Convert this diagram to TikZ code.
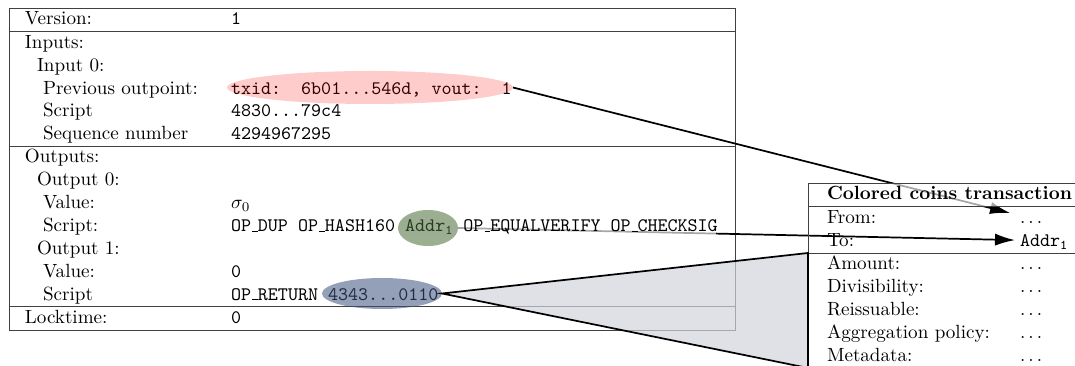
\documentclass[tikz,border=0pt]{standalone}
\usetikzlibrary{shapes.geometric,arrows.meta}
\definecolor{addrfill}{RGB}{73,109,55}
\definecolor{datafill}{RGB}{60,80,125}
\definecolor{wedgefill}{RGB}{210,212,220}
\def\pxu{0.5236pt}
% short typewriter underscore, as in OT1 \texttt
\newcommand\ttusc{\leavevmode\kern.06em\vbox{\hrule width.3em}}
\pgfdeclarelayer{frames}
\pgfdeclarelayer{links}
\pgfdeclarelayer{veils}
\pgfsetlayers{frames,links,veils,main}
\begin{document}
\begin{tikzpicture}[x=\pxu,y=-\pxu,
  lbl/.style={anchor=base west, inner sep=0pt, outer sep=0pt},
  val/.style={lbl, font=\ttfamily\frenchspacing},
  frame/.style={rectangle, draw=black!75, line width=0.5pt, inner sep=0pt, outer sep=0pt, anchor=north west},
  veil/.style={fill=white, fill opacity=0.65},
  conn/.style={line width=0.9pt, -{Latex[length=10.5pt,width=6.4pt]}},
  hilite/.style={ellipse, inner sep=0pt, outer sep=0pt, draw=none},
  wedgeedge/.style={line width=0.9pt, line join=miter}]
\useasboundingbox (0,0) rectangle (1075,366);
\clip (0,0) rectangle (1075,366);

% transaction frame
\begin{pgfonlayer}{frames}
\node[frame, minimum width=726*\pxu, minimum height=23.5*\pxu]  (verbox)  at (9,8) {};
\node[frame, minimum width=726*\pxu, minimum height=114.5*\pxu] (inbox)   at (9,31.5) {};
\node[frame, minimum width=726*\pxu, minimum height=160.5*\pxu] (outbox)  at (9,146) {};
\node[frame, minimum width=726*\pxu, minimum height=24*\pxu]    (lockbox) at (9,306.5) {};
\end{pgfonlayer}

% colored coins frame, header and script cell veiled
\begin{pgfonlayer}{veils}
\node[veil, rectangle, inner sep=0pt, anchor=north west, minimum width=486*\pxu, minimum height=24*\pxu] (scriptveil) at (230,214) {};
\node[frame, veil, minimum width=272*\pxu, minimum height=23.5*\pxu] (hdrbox)  at (808,183) {};
\node[frame, minimum width=272*\pxu, minimum height=46.5*\pxu] (addrbox) at (808,206.5) {};
\node[frame, minimum width=272*\pxu, minimum height=115*\pxu]  (detail)  at (808,253) {};
\end{pgfonlayer}

% transaction rows
\node[lbl] (lversion) at (25,24.8) {Version:};
\node[val] (vversion) at (231,24.8) {1};
\node[lbl] (linputs) at (25,48.3) {Inputs:};
\node[lbl] (linput0) at (37,71.2) {Input 0:};
\node[lbl] (lprev) at (43,94.1) {Previous outpoint:};
\node[val] (vprev) at (231,94.1) {txid:\ \ 6b01...546d, vout:\ \ 1};
\node[lbl] (linscript) at (43,117) {Script};
\node[val] (vinscript) at (231,117) {4830...79c4};
\node[lbl] (lseq) at (43,139.9) {Sequence number};
\node[val] (vseq) at (231,139.9) {4294967295};
\node[lbl] (loutputs) at (25,162.8) {Outputs:};
\node[lbl] (lout0) at (37,185.7) {Output 0:};
\node[lbl] (lval0) at (43,208.6) {Value:};
\node[lbl] (vval0) at (231,208.6) {$\sigma_0$};
\node[lbl] (lscript0) at (43,231.5) {Script:};
\node[val] (vscript0) at (231,231.5) {OP\ttusc DUP OP\ttusc HASH160 Addr$_{\mathtt{1}}$ OP\ttusc EQUALVERIFY OP\ttusc CHECKSIG};
\node[lbl] (lout1) at (37,254.4) {Output 1:};
\node[lbl] (lval1) at (43,277.3) {Value:};
\node[val] (vval1) at (231,277.3) {0};
\node[lbl] (lscript1) at (43,300.2) {Script};
\node[val] (vscript1) at (231,300.2) {OP\ttusc RETURN 4343...0110};
\node[lbl] (llock) at (25,324) {Locktime:};
\node[val] (vlock) at (231,324) {0};

% colored coins rows
\node[lbl, font=\bfseries] (chead) at (827,199.8) {Colored coins transaction};
\node[lbl] (lfrom) at (827,223.3) {From:};
\node[lbl] (fromval) at (1020,223.3) {$\ldots$};
\node[lbl] (lto) at (827,246.2) {To:};
\node[val] (toval) at (1020,246.2) {Addr$_{\mathtt{1}}$};
\node[lbl] (lamount) at (827,269.8) {Amount:};
\node[lbl] (vamount) at (1020,269.8) {$\ldots$};
\node[lbl] (ldiv) at (827,292.7) {Divisibility:};
\node[lbl] (vdiv) at (1020,292.7) {$\ldots$};
\node[lbl] (lreiss) at (827,315.6) {Reissuable:};
\node[lbl] (vreiss) at (1020,315.6) {$\ldots$};
\node[lbl] (laggr) at (827,338.5) {Aggregation policy:};
\node[lbl] (vaggr) at (1020,338.5) {$\ldots$};
\node[lbl] (lmeta) at (827,361.4) {Metadata:};
\node[lbl] (vmeta) at (1020,361.4) {$\ldots$};

% highlighted fields
\node[hilite, fill=red, fill opacity=0.2, minimum width=286*\pxu, minimum height=33*\pxu] (voutell) at (370,87.5) {};
\node[hilite, fill=addrfill, fill opacity=0.55, minimum width=60*\pxu, minimum height=36*\pxu] (addrell) at (428,228) {};
\node[hilite, fill=datafill, fill opacity=0.55, minimum width=120*\pxu, minimum height=31*\pxu] (dataell) at (382,293.5) {};

% OP_RETURN payload expanded into the colored coins fields
\fill[wedgefill, fill opacity=0.7] (dataell.east) -- (detail.north west) -- (detail.south west) -- cycle;
\draw[wedgeedge] (detail.north west) -- (dataell.east) -- (detail.south west) -- cycle;

% field links
\begin{pgfonlayer}{links}
\draw[conn] (voutell.east) -- ([xshift=-5.2pt,yshift=5.4pt]fromval.base west);
\draw[conn] (addrell.east) -- ([xshift=-2.6pt,yshift=3.2pt]toval.base west);
\end{pgfonlayer}
\end{tikzpicture}
\end{document}
